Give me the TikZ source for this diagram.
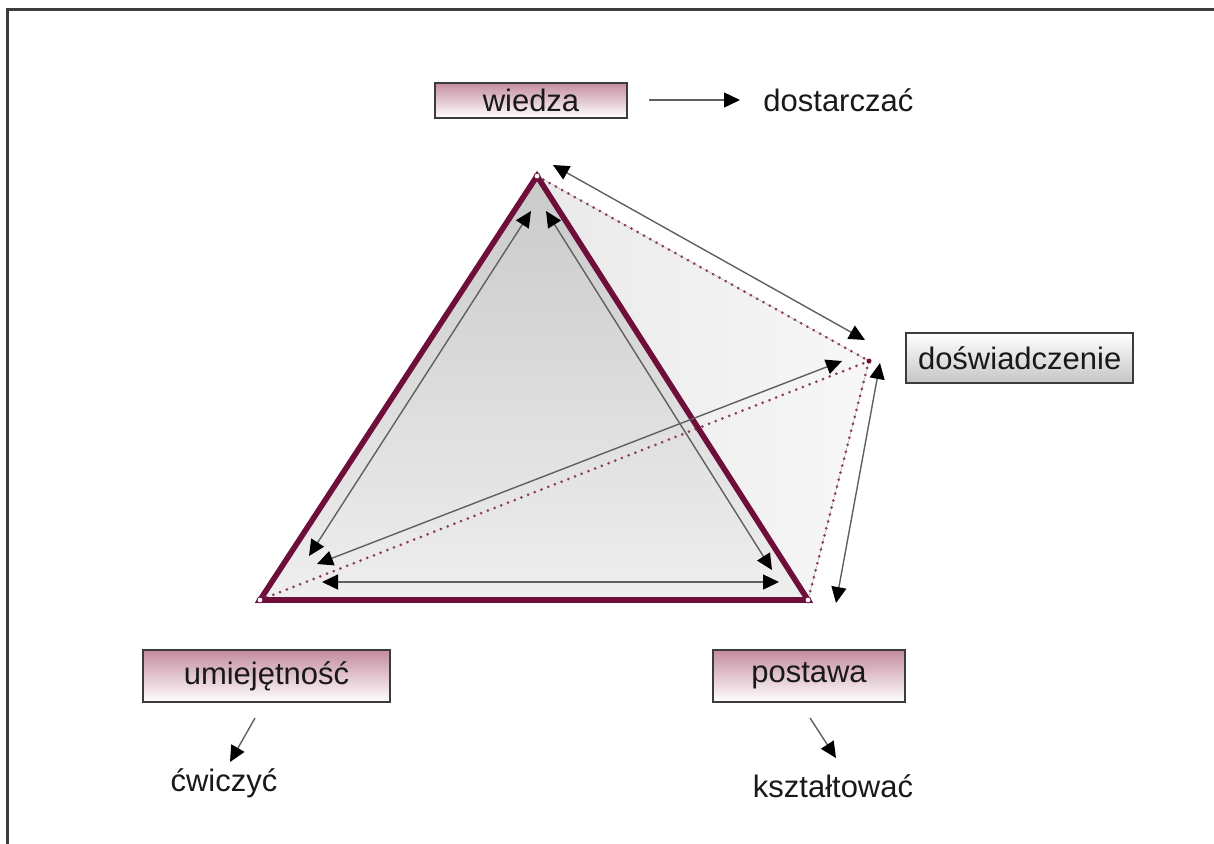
\documentclass[tikz,border=0pt]{standalone}
\usepackage{fontspec}
\setmainfont{Liberation Sans}
\usetikzlibrary{arrows.meta}
\definecolor{maroon}{RGB}{110,14,58}
\definecolor{dotmaroon}{RGB}{140,60,95}
\definecolor{mauve}{RGB}{196,140,158}
\definecolor{framegray}{RGB}{60,60,60}
\definecolor{linegray}{RGB}{95,95,95}
\definecolor{txt}{RGB}{25,25,25}
\begin{document}
\begin{tikzpicture}[x=0.5pt,y=-0.5pt,
  labelfont/.style={font=\fontsize{15.5}{18}\selectfont, text=txt},
  pinkbox/.style={labelfont, draw=framegray, line width=1pt, top color=mauve, bottom color=white, inner sep=0pt},
  graybox/.style={labelfont, draw=framegray, line width=1pt, top color=white, bottom color=gray!45, inner xsep=6pt, inner ysep=0pt},
  lbl/.style={labelfont, inner sep=0pt},
  arr/.style={draw=linegray, line width=0.7pt, -{Triangle[length=8pt,width=7.5pt,color=black]}},
  darr/.style={draw=linegray, line width=0.7pt, {Triangle[length=8pt,width=7.5pt,color=black]}-{Triangle[length=8pt,width=7.5pt,color=black]}},
  dotline/.style={draw=dotmaroon, line width=1.5pt, line cap=round, dash pattern=on 0pt off 3.6pt},
  edge3/.style={draw=maroon, line width=2.8pt, line join=miter},
  vdot/.style={circle, fill=white, draw=maroon, line width=0.4pt, inner sep=0pt, minimum size=3pt}
]
\useasboundingbox (0,0) rectangle (1214,843);
% frame
\draw[framegray, line width=1.5pt] (7,900) -- (7,9) -- (1300,9);

% vertices
\coordinate (A) at (537,176);
\coordinate (B) at (260,600);
\coordinate (C) at (808,600);
\coordinate (D) at (869,361);

% faces
\fill[left color=gray!26, right color=gray!6] (A) -- (D) -- (C) -- (B) -- cycle;
\fill[top color=gray!42, bottom color=gray!13] (A) -- (C) -- (B) -- cycle;

% dotted hidden edges
\draw[dotline] (A) -- (D);
\draw[dotline] (B) -- (D);
\draw[dotline] (D) -- (C);

% thick triangle
\draw[edge3] (A) -- (C) -- (B) -- cycle;

% vertex dots
\node[vdot] (vA) at (A) {};
\node[vdot] (vB) at (B) {};
\node[vdot] (vC) at (C) {};
\node[circle, fill=maroon, inner sep=0pt, minimum size=2.5pt] (vD) at (D) {};

% arrow end points
\coordinate (l1a) at (531,211);
\coordinate (l1b) at (309,556);
\coordinate (l2a) at (546,211);
\coordinate (l2b) at (772,570);
\coordinate (l3a) at (322,582);
\coordinate (l3b) at (779,582);
\coordinate (l4a) at (317,564);
\coordinate (l4b) at (842,361);
\coordinate (l5a) at (553,165);
\coordinate (l5b) at (865,340);
\coordinate (l6a) at (880,363);
\coordinate (l6b) at (836,603);

\draw[darr] (l1a) -- (l1b);
\draw[darr] (l2a) -- (l2b);
\draw[darr] (l3a) -- (l3b);
\draw[darr] (l4a) -- (l4b);
\draw[darr] (l5a) -- (l5b);
\draw[darr] (l6a) -- (l6b);

% boxes
\node[pinkbox, minimum width=96pt, minimum height=17.5pt] (wiedza) at (531,100) {wiedza};
\node[graybox, anchor=west, minimum height=25pt] (dosw) at (905,358) {doświadczenie};
\node[pinkbox, minimum width=123.5pt, minimum height=26pt] (umie) at (266.5,676) {umiejętność};
\node[pinkbox, minimum width=96pt, minimum height=26pt] (post) at (809,676) {postawa};

% verbs
\node[lbl, anchor=west] (dost) at (763,100) {dostarczać};
\node[lbl] (cwi) at (224,783) {ćwiczyć};
\node[lbl] (kszt) at (833,786) {kształtować};

% verb arrows
\draw[arr] ([xshift=10.5pt]wiedza.east) -- ([xshift=-11.5pt]dost.west);
\coordinate (u1) at (255,718);
\coordinate (u2) at (230,762);
\draw[arr] (u1) -- (u2);
\coordinate (p1) at (810,718);
\coordinate (p2) at (836,758);
\draw[arr] (p1) -- (p2);
\end{tikzpicture}
\end{document}
